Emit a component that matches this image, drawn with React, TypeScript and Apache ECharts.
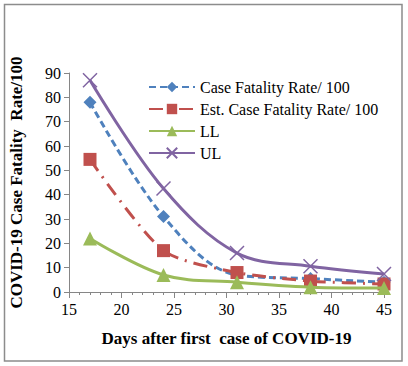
import React, { useEffect, useRef } from "react";
import * as echarts from "echarts";

const days = [17, 24, 31, 38, 45];
const caseFatality = [78, 31, 7, 5.5, 4];
const estCaseFatality = [54.5, 17, 8, 4.5, 3.3];
const lowerLimit = [22, 7, 4, 2, 1.6];
const upperLimit = [87, 42.5, 16, 10.6, 7.4];
const seriesNames = ["Case Fatality Rate/ 100", "Est. Case Fatality Rate/ 100", "LL", "UL"];

const BLUE = "#4F81BD";
const RED = "#C0504D";
const GREEN = "#9BBB59";
const PURPLE = "#8064A2";
const SERIF = "Liberation Serif";

const pairs = (ys: number[]) => days.map((d, i) => [d, ys[i]]);

export default function App() {
  const ref = useRef<HTMLDivElement>(null);
  useEffect(() => {
    const chart = echarts.init(ref.current!, null, { renderer: "svg" });
    chart.setOption({
      animation: false,
      backgroundColor: "#fff",
      textStyle: { fontFamily: SERIF },
      graphic: [
        {
          type: "rect",
          shape: { x: 4.5, y: 4.5, width: 397.5, height: 356.5 },
          style: { fill: "none", stroke: "#8c8c8c", lineWidth: 1.5 },
          silent: true,
        },
      ],
      grid: { left: 68, right: 24, top: 73, bottom: 74 },
      legend: {
        left: 143,
        top: 74,
        orient: "vertical",
        itemWidth: 46,
        itemHeight: 13,
        itemGap: 6,
        textStyle: { fontFamily: SERIF, fontSize: 16, color: "#000" },
        data: seriesNames,
      },
      xAxis: {
        type: "value",
        min: 15,
        max: 45,
        interval: 5,
        name: "Days after first  case of COVID-19",
        nameLocation: "middle",
        nameGap: 38,
        nameTextStyle: { fontFamily: SERIF, fontSize: 17, fontWeight: "bold", color: "#000" },
        axisLine: { lineStyle: { color: "#868686", width: 1 } },
        axisTick: { show: true, length: 6, lineStyle: { color: "#868686" } },
        minorTick: { show: true, splitNumber: 5, length: 3, lineStyle: { color: "#868686" } },
        axisLabel: { fontFamily: SERIF, fontSize: 16, color: "#000", margin: 9 },
        splitLine: { show: false },
      },
      yAxis: {
        type: "value",
        min: 0,
        max: 90,
        interval: 10,
        name: "COVID-19 Case Fatality  Rate/100",
        nameLocation: "middle",
        nameGap: 44,
        nameTextStyle: { fontFamily: SERIF, fontSize: 17, fontWeight: "bold", color: "#000" },
        axisLine: { show: true, lineStyle: { color: "#868686", width: 1 } },
        axisTick: { show: true, length: 5, lineStyle: { color: "#868686" } },
        axisLabel: { fontFamily: SERIF, fontSize: 16, color: "#000", margin: 8 },
        splitLine: { show: false },
      },
      series: [
        {
          name: seriesNames[0],
          type: "line",
          data: pairs(caseFatality),
          smooth: 0.35,
          symbol: "diamond",
          symbolSize: 13,
          z: 3,
          itemStyle: { color: BLUE },
          lineStyle: { color: BLUE, width: 3, type: [7, 4] },
        },
        {
          name: seriesNames[1],
          type: "line",
          data: pairs(estCaseFatality),
          smooth: 0.25,
          symbol: "rect",
          symbolSize: 13,
          z: 4,
          itemStyle: { color: RED },
          lineStyle: { color: RED, width: 3, type: [14, 7, 2, 7] },
        },
        {
          name: seriesNames[2],
          type: "line",
          data: pairs(lowerLimit),
          smooth: 0.35,
          symbol: "triangle",
          symbolSize: 14,
          z: 5,
          itemStyle: { color: GREEN },
          lineStyle: { color: GREEN, width: 3 },
        },
        {
          name: seriesNames[3],
          type: "line",
          data: pairs(upperLimit),
          smooth: 0.35,
          symbol: "path://M0,0 L10,10 M10,0 L0,10",
          symbolSize: 14,
          z: 6,
          itemStyle: { color: "none", borderColor: PURPLE, borderWidth: 1.5 },
          lineStyle: { color: PURPLE, width: 3 },
        },
      ],
    });
    return () => chart.dispose();
  }, []);
  return (
    <>
      <style>{`.chart-box svg text { font-family: "Liberation Serif", serif !important; }`}</style>
      <div
        ref={ref}
        className="chart-box"
        style={{ position: "absolute", left: 0, top: 0, width: 408, height: 366 }}
      />
    </>
  );
}
